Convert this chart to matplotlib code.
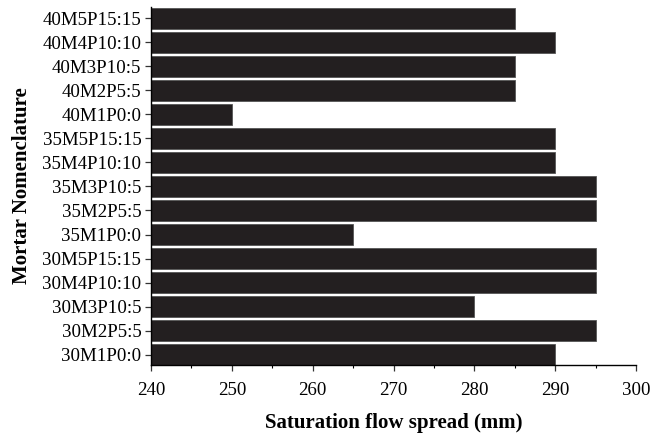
import matplotlib.pyplot as plt
from matplotlib.ticker import MultipleLocator

plt.rcParams['font.family'] = ['Liberation Serif', 'DejaVu Serif']

# bottom to top
labels = ['30M1P0:0', '30M2P5:5', '30M3P10:5', '30M4P10:10', '30M5P15:15',
          '35M1P0:0', '35M2P5:5', '35M3P10:5', '35M4P10:10', '35M5P15:15',
          '40M1P0:0', '40M2P5:5', '40M3P10:5', '40M4P10:10', '40M5P15:15']
spread = [290, 295, 280, 295, 295,
          265, 295, 295, 290, 290,
          250, 285, 285, 290, 285]

fig = plt.figure(figsize=(6.52, 4.34), dpi=100)
ax = fig.add_axes([151 / 652, 1 - 365 / 434, (636 - 151) / 652, (365 - 7) / 434])

base = 240
h = 0.87
pos = range(len(labels))
ax.barh(pos, [v - base for v in spread], left=base, height=h,
        color='#231f20', edgecolor='#555555', linewidth=0.6)

ax.set_xlim(240, 300)
ax.set_ylim(-h / 2, len(labels) - 1 + h / 2 + 0.04)
ax.set_yticks(list(pos))
ax.set_yticklabels(labels)
ax.xaxis.set_major_locator(MultipleLocator(10))
ax.xaxis.set_minor_locator(MultipleLocator(5))

for s in ['top', 'right']:
    ax.spines[s].set_visible(False)
ax.spines['left'].set_linewidth(1.0)
ax.spines['bottom'].set_linewidth(1.0)

ax.tick_params(axis='both', which='major', direction='out', length=4,
               width=0.9, labelsize=13.6, color='#333333')
ax.tick_params(axis='x', which='minor', direction='out', length=2.5, width=0.8)
ax.tick_params(axis='x', pad=8)
ax.tick_params(axis='y', pad=3)

ax.set_xlabel('Saturation flow spread (mm)', fontsize=15, fontweight='bold', labelpad=10)
ax.set_ylabel('Mortar Nomenclature', fontsize=15, fontweight='bold', labelpad=7)

fig.savefig('out.png', dpi=100)
